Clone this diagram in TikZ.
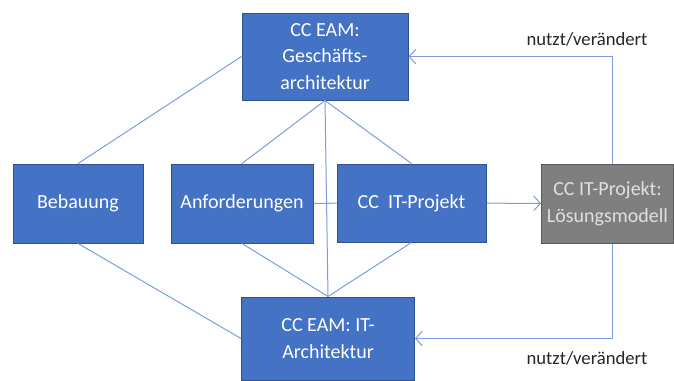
\documentclass[tikz,border=0pt]{standalone}
\usepackage{fontspec}
\setmainfont{Carlito}
\usepackage{tikz}
\usetikzlibrary{arrows.meta}
\usetikzlibrary{positioning}
\definecolor{boxblau}{HTML}{4472C4}
\definecolor{boxrand}{HTML}{2F528F}
\definecolor{boxgrau}{HTML}{7F7F7F}
\definecolor{graurand}{HTML}{5A5A5A}
\definecolor{linienblau}{HTML}{7C9DDB}
\tikzset{
	cbox/.style={draw=boxrand, fill=boxblau, text=white, align=center, inner sep=0pt, line width=0.75pt, font=\fontsize{15}{20}\selectfont},
	gbox/.style={cbox, draw=graurand, fill=boxgrau, text=black!12},
	verb/.style={linienblau, line width=0.75pt},
	pfeil/.style={verb, -{Straight Barb[length=5pt, width=11pt]}},
	beschr/.style={text=black!85, font=\fontsize{14}{17}\selectfont}
}
\begin{document}
\begin{tikzpicture}[x=0.75pt, y=-0.75pt]
				
				\useasboundingbox (0,0) rectangle (674,380);
				
				% boxes
				\node[cbox, minimum width=124.5pt, minimum height=65.25pt] (geschaeft) at (325,56.5) {CC EAM:\\Geschäfts-\\architektur};
				\node[cbox, minimum width=97.5pt, minimum height=59.25pt] (bebauung) at (78,203.5) {Bebauung};
				\node[cbox, minimum width=106.5pt, minimum height=59.25pt] (anford) at (242,203.5) {Anforderungen};
				\node[cbox, minimum width=111.75pt, minimum height=58.5pt] (itprojekt) at (411.5,203) {CC~ IT-Projekt};
				\node[gbox, minimum width=99pt, minimum height=59.25pt] (loesung) at (607.5,203.5) {CC IT-Projekt:\\Lösungsmodell};
				\node[cbox, minimum width=129.75pt, minimum height=62.25pt] (itarch) at (328,338.5) {CC EAM: IT-\\Architektur};
				
				% verbindungen
				\draw[verb] (bebauung.north) -- (geschaeft.west);
				\draw[verb] (bebauung.south) -- (itarch.west);
				\draw[verb] (anford.north) -- (geschaeft.south);
				\draw[verb] (itprojekt.north) -- (geschaeft.south);
				\draw[verb] (geschaeft.south) -- (itarch.north);
				\draw[verb] (anford.south) -- (itarch.north);
				\draw[verb] (itprojekt.south) -- (itarch.north);
				\draw[verb] (anford) -- (itprojekt);
				\draw[pfeil] (itprojekt) -- (loesung);
				\draw[pfeil] ([xshift=3.75pt]loesung.north) |- (geschaeft.east);
				\draw[pfeil] ([xshift=3.75pt]loesung.south) |- (itarch.east);
				
				\node[beschr] (oben) at (587,39) {nutzt/verändert};
				\node[beschr] (unten) at (587,358) {nutzt/verändert};
				\end{tikzpicture}
\end{document}
